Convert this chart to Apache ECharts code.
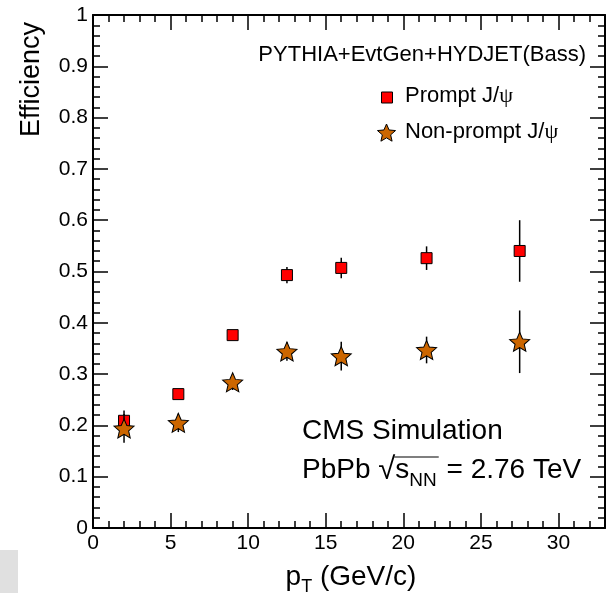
<!DOCTYPE html>
<html><head><meta charset="utf-8">
<script src="https://cdn.jsdelivr.net/npm/echarts@6/dist/echarts.min.js"></script>
<style>html,body{margin:0;padding:0;background:#fff}#c{width:612px;height:593px}</style>
</head><body><div id="c"></div>
<script>
// ---- data ----
const ptBins = [2, 5.5, 9, 12.5, 16, 21.5, 27.5];
const promptEff = [0.209, 0.261, 0.376, 0.493, 0.507, 0.526, 0.540];
const promptErr = [0.020, 0.007, 0.006, 0.016, 0.020, 0.023, 0.060];
const nonPromptEff = [0.194, 0.205, 0.284, 0.344, 0.335, 0.347, 0.363];
const nonPromptErr = [0.028, 0.018, 0.015, 0.018, 0.028, 0.026, 0.061];
const xTicks = [0, 5, 10, 15, 20, 25, 30];
const yTicks = ['0', '0.1', '0.2', '0.3', '0.4', '0.5', '0.6', '0.7', '0.8', '0.9', '1'];
const seriesNames = ['Prompt J/ψ', 'Non-prompt J/ψ'];

// ---- style ----
const FONT = '"Liberation Sans", Arial, Helvetica, sans-serif';
const SERIF = '"Liberation Serif", "DejaVu Serif", serif';
const STAR_PTS = [[50,0],[63.52,31.39],[97.55,34.55],[71.87,57.11],[79.39,90.45],[50,73],[20.61,90.45],[28.13,57.11],[2.45,34.55],[36.48,31.39]];
const STAR = 'path://M' + STAR_PTS.map(p => p.join(',')).join(' L') + ' Z';
const G = {left: 93, top: 15, width: 512, height: 513};

const mctx = document.createElement('canvas').getContext('2d');
function tw(s, size, fam) { mctx.font = size + 'px ' + (fam || FONT); return mctx.measureText(s).width; }
function asc(s, size, fam) { mctx.font = size + 'px ' + (fam || FONT); return mctx.measureText(s).actualBoundingBoxAscent; }
function txt(s, x, base, size, align, fam, extra) {
  return Object.assign({
    type: 'text', x: x, y: base - 0.35 * size, silent: true,
    style: {text: s, fontSize: size, fontFamily: fam || FONT, fill: '#000', align: align || 'left', verticalAlign: 'middle'}
  }, extra || {});
}

const graphics = [];
graphics.push({type: 'rect', shape: {x: 0, y: 550, width: 18, height: 43}, style: {fill: '#e0e0e0'}, silent: true});
graphics.push(txt('PYTHIA+EvtGen+HYDJET(Bass)', 586, 63, 22, 'right'));
// legend
graphics.push({type: 'rect', shape: {x: 381.5, y: 92, width: 11, height: 11}, style: {fill: '#ff0000', stroke: '#000', lineWidth: 1}, silent: true});
graphics.push(txt('Prompt J/', 405, 104, 22));
graphics.push(txt('ψ', 405 + tw('Prompt J/', 22), 104, 22, 'left', SERIF));
graphics.push({type: 'polygon', shape: {points: STAR_PTS.map(p => [377 + p[0] * 0.19, 124 + p[1] * 0.19])}, style: {fill: '#cc6600', stroke: '#000', lineWidth: 1}, silent: true});
graphics.push(txt('Non-prompt J/', 405, 140, 22));
graphics.push(txt('ψ', 405 + tw('Non-prompt J/', 22), 140, 22, 'left', SERIF));
// CMS text
graphics.push(txt('CMS Simulation', 302, 441, 28));
(function () {
  const fs = 28, rfs = 31, sfs = 19, base = 480;
  let x = 302;
  graphics.push(txt('PbPb ', x, base, fs)); x += tw('PbPb ', fs);
  graphics.push(txt('√', x, base + 1, rfs)); x += tw('√', rfs);
  const top = base + 1 - asc('√', rfs) + 1;
  const sx = x;
  graphics.push(txt('s', x, base, fs)); x += tw('s', fs);
  graphics.push(txt('NN', x, base + 7, sfs)); x += tw('NN', sfs) + 2;
  graphics.push({type: 'line', shape: {x1: sx - 1, y1: top, x2: x, y2: top}, style: {stroke: '#000', lineWidth: 1.2}, silent: true});
  graphics.push(txt(' = 2.76 TeV', x, base, fs));
})();
// x axis title
(function () {
  const fs = 28, sfs = 18, base = 587;
  const w = tw('p', fs) + tw('T', sfs) + tw(' (GeV/c)', fs);
  let x = G.left + G.width / 2 - w / 2 + 2;
  graphics.push(txt('p', x, base, fs)); x += tw('p', fs);
  graphics.push(txt('T', x, base + 6, sfs)); x += tw('T', sfs);
  graphics.push(txt(' (GeV/c)', x, base, fs));
})();
// y axis title
graphics.push(txt('Efficiency', 0, 0, 27, 'right', FONT, {x: 32, y: 22, rotation: Math.PI / 2}));

const lineStyle = {color: '#000', width: 2};
const tickStyle = {color: '#000', width: 1.5};
function xAx(pos, major, labels) {
  return {
    type: 'value', position: pos, min: 0, max: 33, interval: major ? 5 : 1,
    axisLine: {show: major, onZero: false, lineStyle: lineStyle},
    axisTick: {show: true, inside: true, length: major ? 15 : 7, lineStyle: tickStyle},
    splitLine: {show: false},
    axisLabel: {show: labels, margin: 5, fontSize: 21, fontFamily: FONT, color: '#000',
      formatter: v => (xTicks.indexOf(v) >= 0 ? String(v) : '')}
  };
}
function yAx(pos, labels) {
  return {
    type: 'value', position: pos, min: 0, max: 1, interval: 0.1,
    axisLine: {show: true, onZero: false, lineStyle: lineStyle},
    axisTick: {show: true, inside: true, length: 15, lineStyle: tickStyle},
    minorTick: {show: true, splitNumber: 5, length: 7, lineStyle: tickStyle},
    splitLine: {show: false},
    axisLabel: {show: labels, margin: 5, fontSize: 21, fontFamily: FONT, color: '#000',
      formatter: v => yTicks[Math.round(v * 10)]}
  };
}
function errRender(params, api) {
  const x = api.value(0), lo = api.value(1), hi = api.value(2);
  const p1 = api.coord([x, lo]), p2 = api.coord([x, hi]);
  return {type: 'line', shape: {x1: p1[0], y1: p1[1], x2: p2[0], y2: p2[1]}, style: {stroke: '#000', lineWidth: 1.5}};
}
const errData = (v, e) => ptBins.map((x, i) => [x, v[i] - e[i], v[i] + e[i]]);
const ptData = v => ptBins.map((x, i) => [x, v[i]]);

const chart = echarts.init(document.getElementById('c'), null, {renderer: 'canvas'});
chart.setOption({
  animation: false,
  backgroundColor: '#fff',
  grid: {left: G.left, top: G.top, width: G.width, height: G.height, containLabel: false},
  xAxis: [xAx('bottom', true, true), xAx('bottom', false, false), xAx('top', true, false), xAx('top', false, false)],
  yAxis: [yAx('left', true), yAx('right', false)],
  series: [
    {type: 'custom', name: seriesNames[0] + ' err', renderItem: errRender, data: errData(promptEff, promptErr), encode: {x: 0, y: [1, 2]}, z: 2, silent: true},
    {type: 'scatter', name: seriesNames[0], data: ptData(promptEff), symbol: 'rect', symbolSize: 11, z: 3,
      itemStyle: {color: '#ff0000', borderColor: '#000', borderWidth: 1, opacity: 1}},
    {type: 'custom', name: seriesNames[1] + ' err', renderItem: errRender, data: errData(nonPromptEff, nonPromptErr), encode: {x: 0, y: [1, 2]}, z: 4, silent: true},
    {type: 'scatter', name: seriesNames[1], data: ptData(nonPromptEff), symbol: STAR, symbolSize: [20, 19], z: 5,
      itemStyle: {color: '#cc6600', borderColor: '#000', borderWidth: 1, opacity: 1}}
  ],
  graphic: graphics
});
</script>
</body></html>
